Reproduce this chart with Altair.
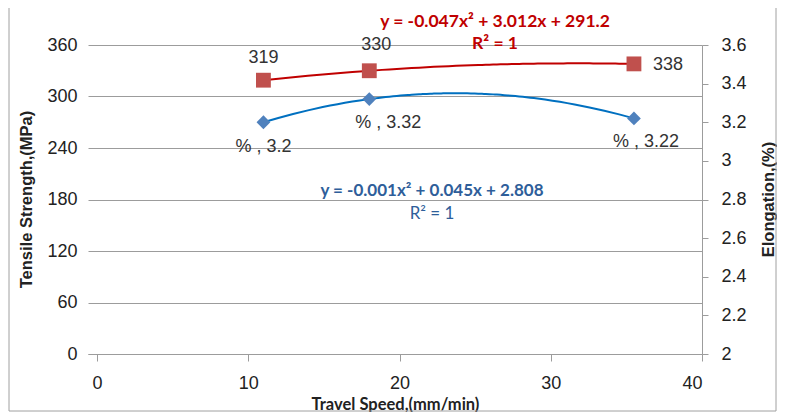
import altair as alt
import pandas as pd

# ---- data ----
speed = [11, 18, 35.5]
tensile = [319, 330, 338]
elong = [3.2, 3.32, 3.22]
ts_labels = ["319", "330", "338"]
el_labels = ["% , 3.2", "% , 3.32", "% , 3.22"]
x_ticks = [0, 10, 20, 30, 40]
ts_ticks = [0, 60, 120, 180, 240, 300, 360]
el_ticks = [2, 2.2, 2.4, 2.6, 2.8, 3, 3.2, 3.4, 3.6]
eq_red = ["y = -0.047x² + 3.012x + 291.2", "R² = 1"]
eq_blue = ["y = -0.001x² + 0.045x + 2.808", "R² = 1"]

df = pd.DataFrame({"x": speed, "ts": tensile, "el": elong,
                   "tsl": ts_labels, "ell": el_labels, "i": [0, 1, 2]})
one = pd.DataFrame({"k": [0]})

GRID = "#9c9c9c"
RED_M = "#C0504D"
RED_L = "#C00000"
BLUE_M = "#4F81BD"
BLUE_L = "#0070C0"
EQ_RED = "#C00000"
EQ_BLUE = "#2E5E9A"
LABEL_FONT = "Liberation Sans"

X = alt.X("x:Q", scale=alt.Scale(domain=[-0.6, 40], nice=False, zero=False),
          axis=alt.Axis(values=x_ticks, title="Travel Speed,(mm/min)", grid=False,
                        domain=True, domainColor=GRID, tickColor=GRID, tickSize=7,
                        labelPadding=13, titlePadding=4, titleFont="Lato",
                        titleFontSize=16.5, titleFontWeight="bold",
                        labelFont=LABEL_FONT, labelFontSize=18, labelColor="#222222",
                        titleColor="#222222"))

YL = alt.Y("ts:Q", scale=alt.Scale(domain=[0, 360], nice=False),
           axis=alt.Axis(values=ts_ticks, orient="left", title="Tensile Strength,(MPa)",
                         grid=True, gridColor=GRID, domain=False, ticks=False,
                         labelPadding=11, titleAngle=-90, titleX=-62, titleY=154,
                         titleAlign="center", titleBaseline="middle",
                         titleFont=LABEL_FONT, titleFontSize=16.5, titleFontWeight="bold",
                         labelFont=LABEL_FONT, labelFontSize=18, labelColor="#222222",
                         titleColor="#222222"))

YR = alt.Y("el:Q", scale=alt.Scale(domain=[2, 3.6], nice=False, zero=False),
           axis=alt.Axis(values=el_ticks, orient="right", title="Elongation,(%)",
                         format="~g", grid=False, domain=True, domainColor=GRID,
                         tickColor=GRID, tickSize=6, labelPadding=13,
                         titleAngle=-90, titleX=66, titleY=154,
                         titleAlign="center", titleBaseline="middle",
                         titleFont=LABEL_FONT, titleFontSize=16.5, titleFontWeight="bold",
                         labelFont=LABEL_FONT, labelFontSize=18, labelColor="#222222",
                         titleColor="#222222"))

base = alt.Chart(df)

# ---- tensile strength (left axis) ----
red_line = base.transform_regression("x", "ts", method="poly", order=2,
                                     extent=[11, 35.5]).mark_line(
    color=RED_L, strokeWidth=2).encode(x=X, y=YL)
red_pts = base.mark_point(shape="square", filled=True, size=220, color=RED_M,
                          opacity=1).encode(x=X, y=YL)
red_offsets = [(0, -22, "center"), (7, -26, "center"), (19, 1, "left")]
red_labels = [
    base.transform_filter(alt.datum.i == k).mark_text(
        font=LABEL_FONT, fontSize=18, color="#333333", dx=dx, dy=dy,
        align=al, baseline="middle").encode(x=X, y=YL, text="tsl:N")
    for k, (dx, dy, al) in enumerate(red_offsets)
]
red_eq1 = alt.Chart(one).mark_text(font="Lato", fontSize=17.5, fontWeight="bold",
                                   color=EQ_RED, align="center", baseline="middle").encode(
    x=alt.value(407), y=alt.value(-23), text=alt.value(eq_red[0]))
red_eq2 = alt.Chart(one).mark_text(font="Lato", fontSize=17.5, fontWeight="bold",
                                   color=EQ_RED, align="center", baseline="middle").encode(
    x=alt.value(407), y=alt.value(-1), text=alt.value(eq_red[1]))
frame = alt.Chart(one).mark_rect(filled=False, stroke="#a0a0a0", strokeWidth=1).encode(
    x=alt.value(-79), x2=alt.value(688), y=alt.value(-40), y2=alt.value(366))

left = alt.layer(frame, red_line, red_pts, *red_labels, red_eq1, red_eq2)

# ---- elongation (right axis) ----
blue_line = base.transform_regression("x", "el", method="poly", order=2,
                                      extent=[11, 35.5]).mark_line(
    color=BLUE_L, strokeWidth=2).encode(x=X, y=YR)
blue_pts = base.mark_point(shape="diamond", filled=True, size=190, color=BLUE_M,
                           opacity=1).encode(x=X, y=YR)
blue_offsets = [(0, 25), (19, 24), (12, 24)]
blue_labels = [
    base.transform_filter(alt.datum.i == k).mark_text(
        font=LABEL_FONT, fontSize=18, color="#333333", dx=dx, dy=dy,
        align="center", baseline="middle").encode(x=X, y=YR, text="ell:N")
    for k, (dx, dy) in enumerate(blue_offsets)
]
blue_eq1 = alt.Chart(one).mark_text(font="Lato", fontSize=17, fontWeight="bold",
                                    color=EQ_BLUE, align="center", baseline="middle").encode(
    x=alt.value(344), y=alt.value(146), text=alt.value(eq_blue[0]))
blue_eq2 = alt.Chart(one).mark_text(font="Lato", fontSize=17,
                                    color=EQ_BLUE, align="center", baseline="middle").encode(
    x=alt.value(344), y=alt.value(169), text=alt.value(eq_blue[1]))

right = alt.layer(blue_line, blue_pts, *blue_labels, blue_eq1, blue_eq2)

chart = alt.layer(left, right).resolve_scale(y="independent").properties(
    width=614, height=309,
    background="white",
    autosize=alt.AutoSizeParams(type="none"),
    padding={"left": 80, "top": 37, "right": 75, "bottom": 58},
).configure_view(stroke=None)

chart.save("out.html", embed_options={"renderer": "svg", "actions": False})
